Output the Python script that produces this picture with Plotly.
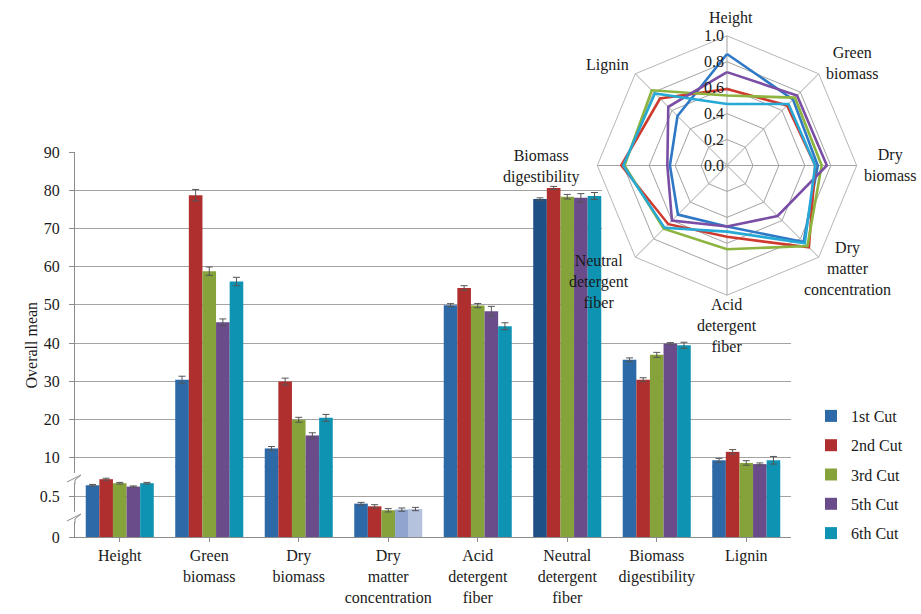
import plotly.graph_objects as go

# ---------------- data ----------------
categories = ["Height", "Green<br>biomass", "Dry<br>biomass", "Dry<br>matter<br>concentration",
              "Acid<br>detergent<br>fiber", "Neutral<br>detergent<br>fiber",
              "Biomass<br>digestibility", "Lignin"]
cuts = ["1st Cut", "2nd Cut", "3rd Cut", "5th Cut", "6th Cut"]

mean_1st = [0.631, 30.4, 12.4, 0.407, 49.9, 77.7, 35.6, 9.3]
mean_2nd = [0.705, 78.7, 29.9, 0.374, 54.4, 80.6, 30.4, 11.5]
mean_3rd = [0.656, 58.8, 19.9, 0.326, 49.8, 78.3, 36.9, 8.6]
mean_5th = [0.615, 45.4, 15.8, 0.334, 48.3, 78.0, 39.9, 8.3]
mean_6th = [0.656, 56.1, 20.4, 0.341, 44.4, 78.5, 39.4, 9.3]

err_1st = [0.010, 0.9, 0.5, 0.015, 0.4, 0.3, 0.5, 0.5]
err_2nd = [0.012, 1.5, 0.9, 0.020, 0.6, 0.4, 0.5, 0.6]
err_3rd = [0.010, 1.1, 0.65, 0.020, 0.55, 0.6, 0.65, 0.6]
err_5th = [0.008, 0.9, 0.7, 0.020, 1.3, 1.1, 0.2, 0.3]
err_6th = [0.010, 1.1, 0.9, 0.020, 0.9, 0.9, 0.8, 1.0]

radar_axes = ["Height", "Green biomass", "Dry biomass", "Dry matter concentration",
              "Acid detergent fiber", "Neutral detergent fiber", "Biomass digestibility", "Lignin"]
radar_1st = [0.86, 0.72, 0.70, 0.835, 0.47, 0.535, 0.44, 0.54]
radar_2nd = [0.59, 0.655, 0.68, 0.893, 0.55, 0.64, 0.815, 0.73]
radar_3rd = [0.54, 0.74, 0.73, 0.877, 0.646, 0.69, 0.79, 0.82]
radar_5th = [0.72, 0.764, 0.77, 0.551, 0.47, 0.60, 0.46, 0.64]
radar_6th = [0.474, 0.67, 0.68, 0.848, 0.51, 0.68, 0.80, 0.786]

lower_ticks = [0, 0.5]
upper_ticks = [10, 20, 30, 40, 50, 60, 70, 80, 90]
radial_ticks = [0, 0.2, 0.4, 0.6, 0.8, 1.0]

# ---------------- styling ----------------
W, H = 921, 614
FONT = "Liberation Serif, Times New Roman, serif"
GRID = "#A3A3A3"
AXIS = "#8C8C8C"
TEXT = "#1a1a1a"

bar_colors = [
    ["#2D69A6"] * 5 + ["#1E5086"] + ["#2D69A6"] * 2,
    ["#AE2F2E"] * 8,
    ["#86A23B"] * 8,
    ["#6A4C8B"] * 3 + ["#8FA5D0"] + ["#6A4C8B"] * 4,
    ["#0E93B2"] * 3 + ["#B4C2DE"] + ["#0E93B2"] * 4,
]
radar_colors = ["#2E78C6", "#CF3A2E", "#8CB43F", "#7A4EA5", "#27A9D6"]

means = [mean_1st, mean_2nd, mean_3rd, mean_5th, mean_6th]
errs = [err_1st, err_2nd, err_3rd, err_5th, err_6th]
radars = [radar_1st, radar_2nd, radar_3rd, radar_5th, radar_6th]


def fx(px):
    return px / W


def fy(py):
    return 1 - py / H


# pixel frame of the bar panel (broken value axis: 0-0.5 segment below, 10-90 above)
PL, PR = 75, 791
BOTTOM, LOW_TOP, UP_BOT, TOP = 537, 466, 467, 152
LOW_PX_PER_UNIT = 82.0
UP_PX_PER_UNIT = 3.82
low_range = [0, (BOTTOM - LOW_TOP) / LOW_PX_PER_UNIT]
up_range = [90 - (UP_BOT - TOP) / UP_PX_PER_UNIT, 90]
cat_range = [-0.5, len(categories) - 0.5]
CAT_PX = (PR - PL) / len(categories)

fig = go.Figure()

for i, name in enumerate(cuts):
    common = dict(
        x=categories, y=means[i], name=name,
        marker=dict(color=bar_colors[i], line=dict(width=0)),
        error_y=dict(type="data", array=errs[i], color="#555555", thickness=1, width=3.5),
    )
    fig.add_trace(go.Bar(xaxis="x", yaxis="y", showlegend=False, **common))
    fig.add_trace(go.Bar(xaxis="x2", yaxis="y2", showlegend=True, legendgroup=name, **common))

for i, name in enumerate(cuts):
    fig.add_trace(go.Scatterpolar(
        r=radars[i] + radars[i][:1], theta=radar_axes + radar_axes[:1],
        mode="lines", line=dict(color=radar_colors[i], width=2.6),
        showlegend=False, subplot="polar", hoverinfo="skip",
    ))

tick_font = dict(family=FONT, size=16, color=TEXT)

fig.update_layout(
    width=W, height=H,
    margin=dict(l=0, r=0, t=0, b=0, autoexpand=False),
    paper_bgcolor="white", plot_bgcolor="rgba(0,0,0,0)",
    barmode="group", bargap=0.24, bargroupgap=0,
    font=dict(family=FONT, size=16, color=TEXT),
    xaxis=dict(domain=[fx(PL), fx(PR)], anchor="y", type="category", range=cat_range,
               automargin=False,
               showline=True, linecolor=AXIS, linewidth=1, showgrid=False,
               ticks="outside", ticklen=4, tickcolor=AXIS, tickfont=tick_font),
    xaxis2=dict(domain=[fx(PL), fx(PR)], anchor="y2", matches="x", type="category",
                range=cat_range, automargin=False,
                showline=False, showgrid=False, showticklabels=False, ticks=""),
    yaxis=dict(domain=[fy(BOTTOM), fy(LOW_TOP)], anchor="x", range=low_range,
               automargin=False,
               tickvals=lower_ticks, ticktext=["0", "0.5"],
               showline=True, linecolor=AXIS, linewidth=1, showgrid=True,
               gridcolor=GRID, gridwidth=1, zeroline=False,
               ticks="outside", ticklen=5, tickcolor=AXIS, tickfont=tick_font,
               ticklabelstandoff=6),
    yaxis2=dict(domain=[fy(UP_BOT), fy(TOP)], anchor="x2", range=up_range,
                automargin=False,
                tickvals=upper_ticks, ticktext=[str(v) for v in upper_ticks],
                showline=True, linecolor=AXIS, linewidth=1, showgrid=True,
                gridcolor=GRID, gridwidth=1, zeroline=False,
                ticks="outside", ticklen=5, tickcolor=AXIS, tickfont=tick_font,
                ticklabelstandoff=6),
    polar=dict(
        domain=dict(x=[fx(597.3), fx(856.7)], y=[fy(295.2), fy(35.8)]),
        bgcolor="white", gridshape="linear",
        radialaxis=dict(range=[0, 1], angle=90, side="counterclockwise", tickangle=90,
                        tickvals=radial_ticks, ticktext=[f"{v:.1f}" for v in radial_ticks],
                        showline=False, ticks="", gridcolor=GRID, gridwidth=0.8,
                        tickfont=tick_font),
        angularaxis=dict(rotation=90, direction="clockwise", showticklabels=False,
                         ticks="", showline=True, linecolor=GRID, linewidth=0.8,
                         gridcolor=GRID, gridwidth=0.8),
    ),
    legend=dict(x=fx(811), y=fy(399), xanchor="left", yanchor="top",
                font=dict(family=FONT, size=16, color=TEXT),
                tracegroupgap=5.5, bgcolor="rgba(0,0,0,0)"),
)

# white panel behind the radar, hiding the upper grid lines there
fig.add_shape(type="rect", xref="x2", yref="y2", layer="between",
              x0=(602 - PL) / CAT_PX - 0.5, x1=cat_range[1],
              y0=90 - (326 - TOP) / UP_PX_PER_UNIT, y1=90,
              fillcolor="white", line=dict(width=0))

# axis-break marks on the value axis
for yb in (478, 517):
    fig.add_shape(type="rect", xref="paper", yref="paper", layer="above",
                  x0=fx(73), x1=fx(77), y0=fy(yb + 5), y1=fy(yb - 5),
                  fillcolor="white", line=dict(width=0))
    pts = [(67, yb + 4), (81, yb - 3), (75, yb + 2), (75, yb + 6)]
    path = "M " + " L ".join(f"{fx(px):.5f},{fy(py):.5f}" for px, py in pts)
    fig.add_shape(type="path", xref="paper", yref="paper", layer="above", path=path,
                  line=dict(color=AXIS, width=1))

# value-axis title
fig.add_annotation(text="Overall mean", x=fx(20), y=fy(345), xref="paper", yref="paper",
                   textangle=-90, showarrow=False, font=dict(family=FONT, size=16, color=TEXT))

# radar category labels
radar_labels = [
    ("Height", 731, 18),
    ("Green<br>biomass", 852, 63),
    ("Dry<br>biomass", 890, 165),
    ("Dry<br>matter<br>concentration", 847, 268),
    ("Acid<br>detergent<br>fiber", 727, 325),
    ("Neutral<br>detergent<br>fiber", 599, 281),
    ("Biomass<br>digestibility", 541, 166),
    ("Lignin", 607, 65),
]
for text, cx, cy in radar_labels:
    fig.add_annotation(text=text, x=fx(cx), y=fy(cy), xref="paper", yref="paper",
                       xanchor="center", yanchor="middle", showarrow=False,
                       font=dict(family=FONT, size=16, color=TEXT))

fig.write_html("out.html")
